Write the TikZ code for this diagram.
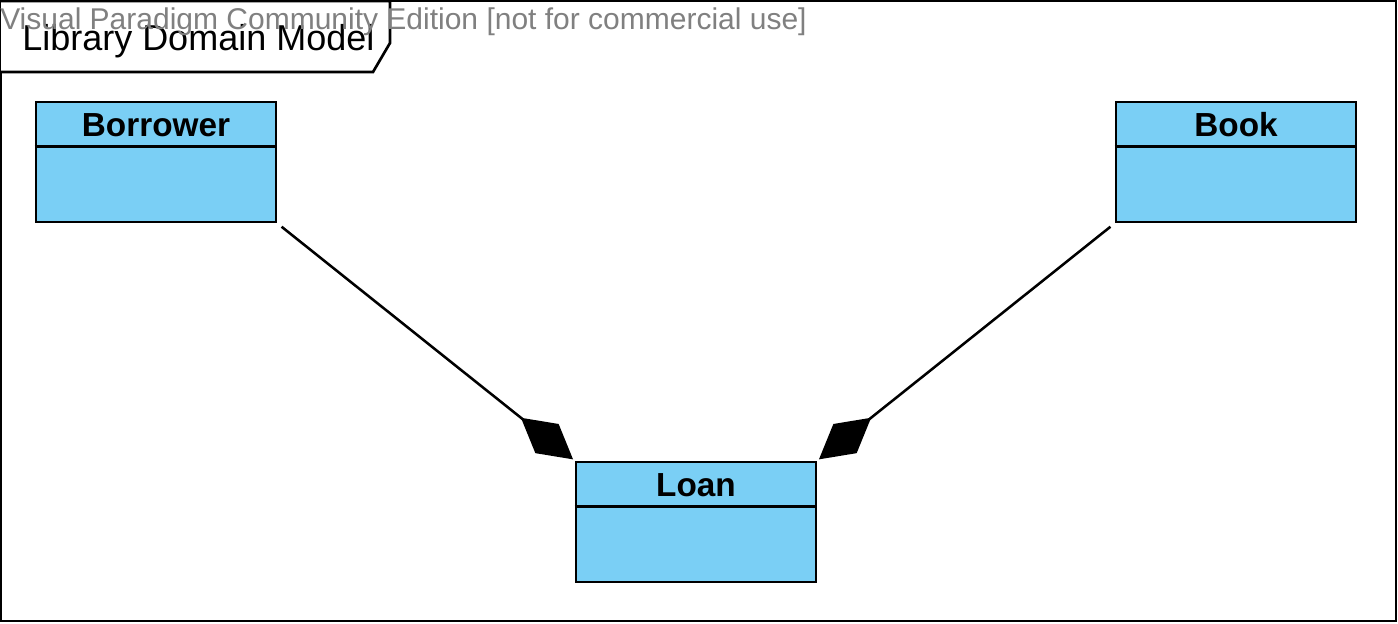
\documentclass[tikz,border=0pt]{standalone}
\usepackage{fontspec}
\setmainfont{Liberation Sans}
\usetikzlibrary{calc,arrows.meta}
\definecolor{classblue}{RGB}{122,207,245}
\definecolor{markgray}{RGB}{128,128,128}

\begin{document}
\begin{tikzpicture}[x=0.75pt, y=-0.75pt,
  classbox/.style={draw, line width=2.1pt, fill=classblue, minimum width=180pt, minimum height=90pt, inner sep=0pt},
  classname/.style={font=\bfseries\fontsize{25}{29}\selectfont, anchor=base, inner sep=0pt},
  compo/.style={line width=1.9pt, -{Diamond[length=50pt, width=28pt]}, shorten <=4pt, shorten >=1.5pt}]
\useasboundingbox (0,0) rectangle (1398,624);
% frame and its tab
\draw[line width=2pt] (1,1) rectangle (1396,621);
\draw[line width=2pt, fill=white] (1,1) -- (390,1) -- (390,43) -- (373,72) -- (1,72);
\node[anchor=base west, inner sep=0pt, font=\fontsize{27}{32}\selectfont] (title) at (22,51) {Library Domain Model};
\node[anchor=base west, inner sep=0pt, text=markgray, font=\fontsize{22.5}{27}\selectfont] (mark) at (0,30) {Visual Paradigm Community Edition [not for commercial use]};
% classes
\node[classbox] (borrower) at (156,162) {};
\node[classbox] (book) at (1236,162) {};
\node[classbox] (loan) at (696,522) {};
\foreach \c/\t in {borrower/Borrower, book/Book, loan/Loan}{
  \draw[line width=2.1pt] ($(\c.north west)+(0,46)$) -- ($(\c.north east)+(0,46)$);
  \node[classname] (\c-name) at ($(\c.north)+(0,36)$) {\t};
}
% compositions
\draw[compo] (borrower.south east) -- (loan.north west);
\draw[compo] (book.south west) -- (loan.north east);
\end{tikzpicture}
\end{document}
